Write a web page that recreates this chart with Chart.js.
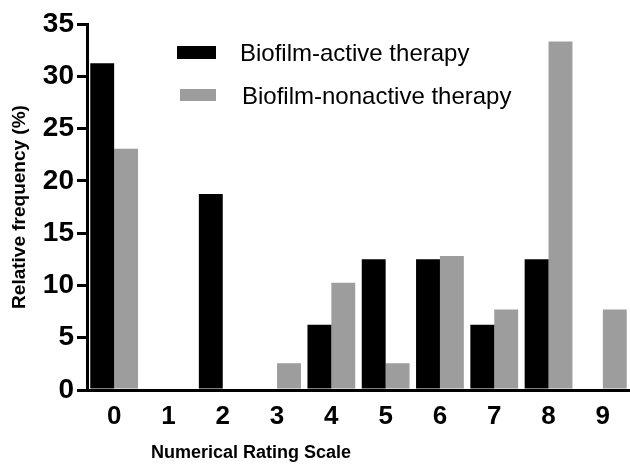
<!DOCTYPE html>
<html>
<head>
<meta charset="utf-8">
<script src="https://cdn.jsdelivr.net/npm/chart.js@4"></script>
<style>
  html, body { margin: 0; padding: 0; background: #fff; }
  #wrap { width: 630px; height: 465px; }
</style>
</head>
<body>
<div id="wrap"><canvas id="myChart" width="630" height="465"></canvas></div>
<script>
var categories = ['0', '1', '2', '3', '4', '5', '6', '7', '8', '9'];
var activeVals = [31.25, 0, 18.75, 0, 6.25, 12.5, 12.5, 6.25, 12.5, 0];
var nonactiveVals = [23.08, 0, 0, 2.56, 10.26, 2.56, 12.82, 7.69, 33.33, 7.69];
var seriesNames = ['Biofilm-active therapy', 'Biofilm-nonactive therapy'];
var yTicks = [0, 5, 10, 15, 20, 25, 30, 35];
var xTitle = 'Numerical Rating Scale';
var yTitle = 'Relative frequency (%)';

var FONT = 'Arial, "Liberation Sans", sans-serif';

// legend + x title drawn by hand so they sit where the original has them
var extras = {
    id: 'extras',
    afterDraw: function(chart) {
        var ctx = chart.ctx;
        ctx.save();
        var ds = chart.data.datasets;
        var boxes = [[177, 46, 39, 13], [180, 89, 36, 12]];
        var textX = [240, 242];
        var textY = [54, 97];
        for (var i = 0; i < ds.length; i++) {
            ctx.fillStyle = ds[i].backgroundColor;
            ctx.fillRect(boxes[i][0], boxes[i][1], boxes[i][2], boxes[i][3]);
            ctx.fillStyle = '#000';
            ctx.font = '24px ' + FONT;
            ctx.textBaseline = 'middle';
            ctx.textAlign = 'left';
            ctx.fillText(ds[i].label, textX[i], textY[i]);
        }
        ctx.font = 'bold 18px ' + FONT;
        ctx.textAlign = 'center';
        ctx.textBaseline = 'middle';
        ctx.fillText(xTitle, 251, 453);
        ctx.restore();
    }
};

const ctx = document.getElementById('myChart');
const myChart = new Chart(ctx, {
    type: 'bar',
    data: {
        labels: categories,
        datasets: [{
            label: seriesNames[0],
            data: activeVals,
            backgroundColor: '#000000',
            borderWidth: 0
        }, {
            label: seriesNames[1],
            data: nonactiveVals,
            backgroundColor: '#9d9d9d',
            borderWidth: 0
        }]
    },
    options: {
        responsive: false,
        animation: false,
        categoryPercentage: 0.88,
        barPercentage: 1.0,
        layout: { padding: { top: 24, right: 0, left: 0, bottom: 0 } },
        plugins: {
            legend: { display: false },
            tooltip: { enabled: false }
        },
        scales: {
            x: {
                grid: { display: false, drawTicks: false },
                border: { display: true, color: '#000', width: 3 },
                ticks: {
                    color: '#000',
                    font: { family: FONT, size: 26, weight: 'bold' },
                    padding: 11
                },
                afterFit: function(scale) { scale.height = 75; }
            },
            y: {
                min: 0,
                max: 35,
                afterBuildTicks: function(scale) {
                    scale.ticks = yTicks.map(function(v) { return { value: v }; });
                },
                grid: {
                    display: true,
                    drawOnChartArea: false,
                    drawTicks: true,
                    tickLength: 10,
                    lineWidth: 3,
                    color: '#000'
                },
                border: { display: true, color: '#000', width: 3 },
                ticks: {
                    color: '#000',
                    font: { family: FONT, size: 28, weight: 'bold' },
                    padding: 3
                },
                title: {
                    display: true,
                    text: yTitle,
                    color: '#000',
                    font: { family: FONT, size: 19, weight: 'bold' },
                    padding: { top: 8, bottom: 0 }
                },
                afterFit: function(scale) { scale.width = 87; }
            }
        }
    },
    plugins: [extras]
});
</script>
</body>
</html>
